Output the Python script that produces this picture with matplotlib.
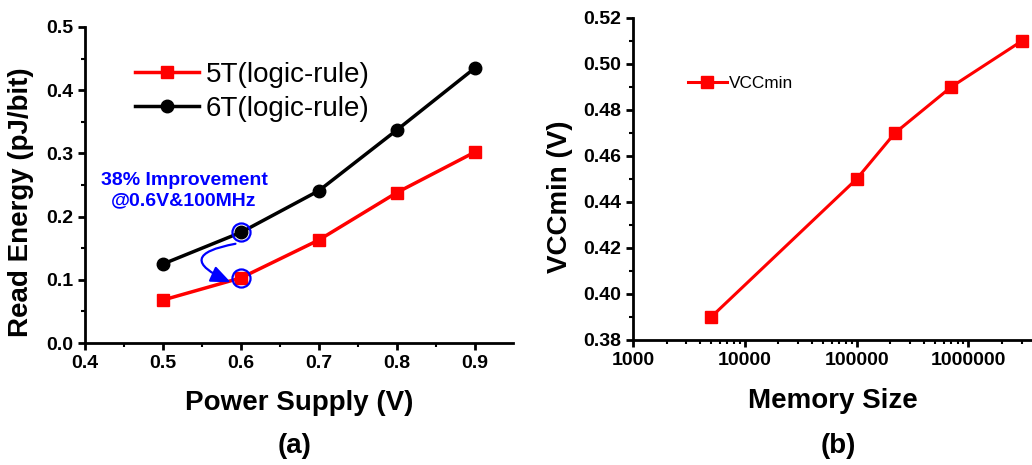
import matplotlib.pyplot as plt
from matplotlib.patches import FancyArrowPatch
from matplotlib.ticker import MultipleLocator, LogLocator, NullFormatter, FormatStrFormatter

plt.rcParams['font.family'] = ['Liberation Sans', 'DejaVu Sans']
plt.rcParams['font.weight'] = 'bold'

# (a) read energy vs supply voltage
vdd = [0.5, 0.6, 0.7, 0.8, 0.9]
energy_5t = [0.068, 0.103, 0.163, 0.238, 0.302]
energy_6t = [0.125, 0.175, 0.241, 0.337, 0.435]

# (b) VCCmin vs memory size
mem_size = [5000, 100000, 220000, 700000, 3000000]
vccmin = [0.39, 0.45, 0.47, 0.49, 0.51]

fig = plt.figure(figsize=(10.32, 4.65), dpi=100)
W, H = 1032, 465


def style_axes(ax):
    for s in ['top', 'right']:
        ax.spines[s].set_visible(False)
    for s in ['left', 'bottom']:
        ax.spines[s].set_linewidth(2)
    ax.tick_params(which='major', direction='out', length=5, width=2, labelsize=14)
    ax.tick_params(which='minor', direction='out', length=3, width=1.5)
    for lab in ax.get_xticklabels() + ax.get_yticklabels():
        lab.set_fontweight('bold')


ax1 = fig.add_axes([85 / W, 1 - 343 / H, 428 / W, 316 / H])
ax1.plot(vdd, energy_5t, color='red', lw=2.5, marker='s', ms=9, label='5T(logic-rule)', zorder=3)
ax1.plot(vdd, energy_6t, color='black', lw=2.5, marker='o', ms=9, label='6T(logic-rule)', zorder=3)
ax1.set_xlim(0.4, 0.949)
ax1.set_ylim(0.0, 0.5)
ax1.xaxis.set_major_locator(MultipleLocator(0.1))
ax1.xaxis.set_minor_locator(MultipleLocator(0.05))
ax1.yaxis.set_major_locator(MultipleLocator(0.1))
ax1.yaxis.set_minor_locator(MultipleLocator(0.05))
ax1.xaxis.set_major_formatter(FormatStrFormatter('%.1f'))
ax1.yaxis.set_major_formatter(FormatStrFormatter('%.1f'))
style_axes(ax1)
ax1.set_xlabel('Power Supply (V)', fontsize=20, fontweight='bold', labelpad=13)
ax1.set_ylabel('Read Energy (pJ/bit)', fontsize=20, fontweight='bold')
ax1.yaxis.set_label_coords(-0.118, 0.446)
ax1.legend(loc='upper left', bbox_to_anchor=(0.09, 0.925), frameon=False,
           prop={'size': 20, 'weight': 'normal'}, handlelength=2.3,
           handletextpad=0.25, labelspacing=0.3, borderaxespad=0)

# highlight the 0.6 V pair
ax1.plot([vdd[1], vdd[1]], [energy_6t[1], energy_5t[1]], ls='none', marker='o', ms=13,
         mfc='none', mec='blue', mew=1.6, zorder=4)
arrow = FancyArrowPatch((0.593, 0.157), (0.587, 0.096), connectionstyle='arc3,rad=1.6',
                        arrowstyle='-|>,head_length=12,head_width=5', color='blue', lw=1.6,
                        shrinkA=0, shrinkB=0, zorder=5)
ax1.add_patch(arrow)
ax1.text(0.527, 0.241, '38% Improvement\n@0.6V&100MHz', color='blue', fontsize=14,
         fontweight='bold', ha='center', va='center', linespacing=1.3)

ax2 = fig.add_axes([633 / W, 1 - 340 / H, 399 / W, 322 / H])
ax2.plot(mem_size, vccmin, color='red', lw=2.2, marker='s', ms=9, label='VCCmin', clip_on=False)
ax2.set_xscale('log')
ax2.set_xlim(1000, 3.7e6)
ax2.set_ylim(0.38, 0.52)
ax2.xaxis.set_minor_locator(LogLocator(base=10, subs=range(2, 10), numticks=20))
ax2.xaxis.set_minor_formatter(NullFormatter())
ax2.set_xticks([1000, 10000, 100000, 1000000])
ax2.set_xticklabels(['1000', '10000', '100000', '1000000'])
ax2.yaxis.set_major_locator(MultipleLocator(0.02))
ax2.yaxis.set_minor_locator(MultipleLocator(0.01))
ax2.yaxis.set_major_formatter(FormatStrFormatter('%.2f'))
style_axes(ax2)
ax2.set_xlabel('Memory Size', fontsize=20, fontweight='bold', labelpad=14)
ax2.set_ylabel('VCCmin (V)', fontsize=20, fontweight='bold')
ax2.yaxis.set_label_coords(-0.150, 0.444)
ax2.legend(loc='upper left', bbox_to_anchor=(0.12, 0.84), frameon=False,
           prop={'size': 12.4, 'weight': 'normal'}, handlelength=2.25,
           handletextpad=0.15, borderaxespad=0)

fig.text(295 / W, 1 - 446 / H, '(a)', fontsize=20, fontweight='bold', ha='center', va='center')
fig.text(838 / W, 1 - 446 / H, '(b)', fontsize=20, fontweight='bold', ha='center', va='center')

fig.savefig('out.png', dpi=100)
